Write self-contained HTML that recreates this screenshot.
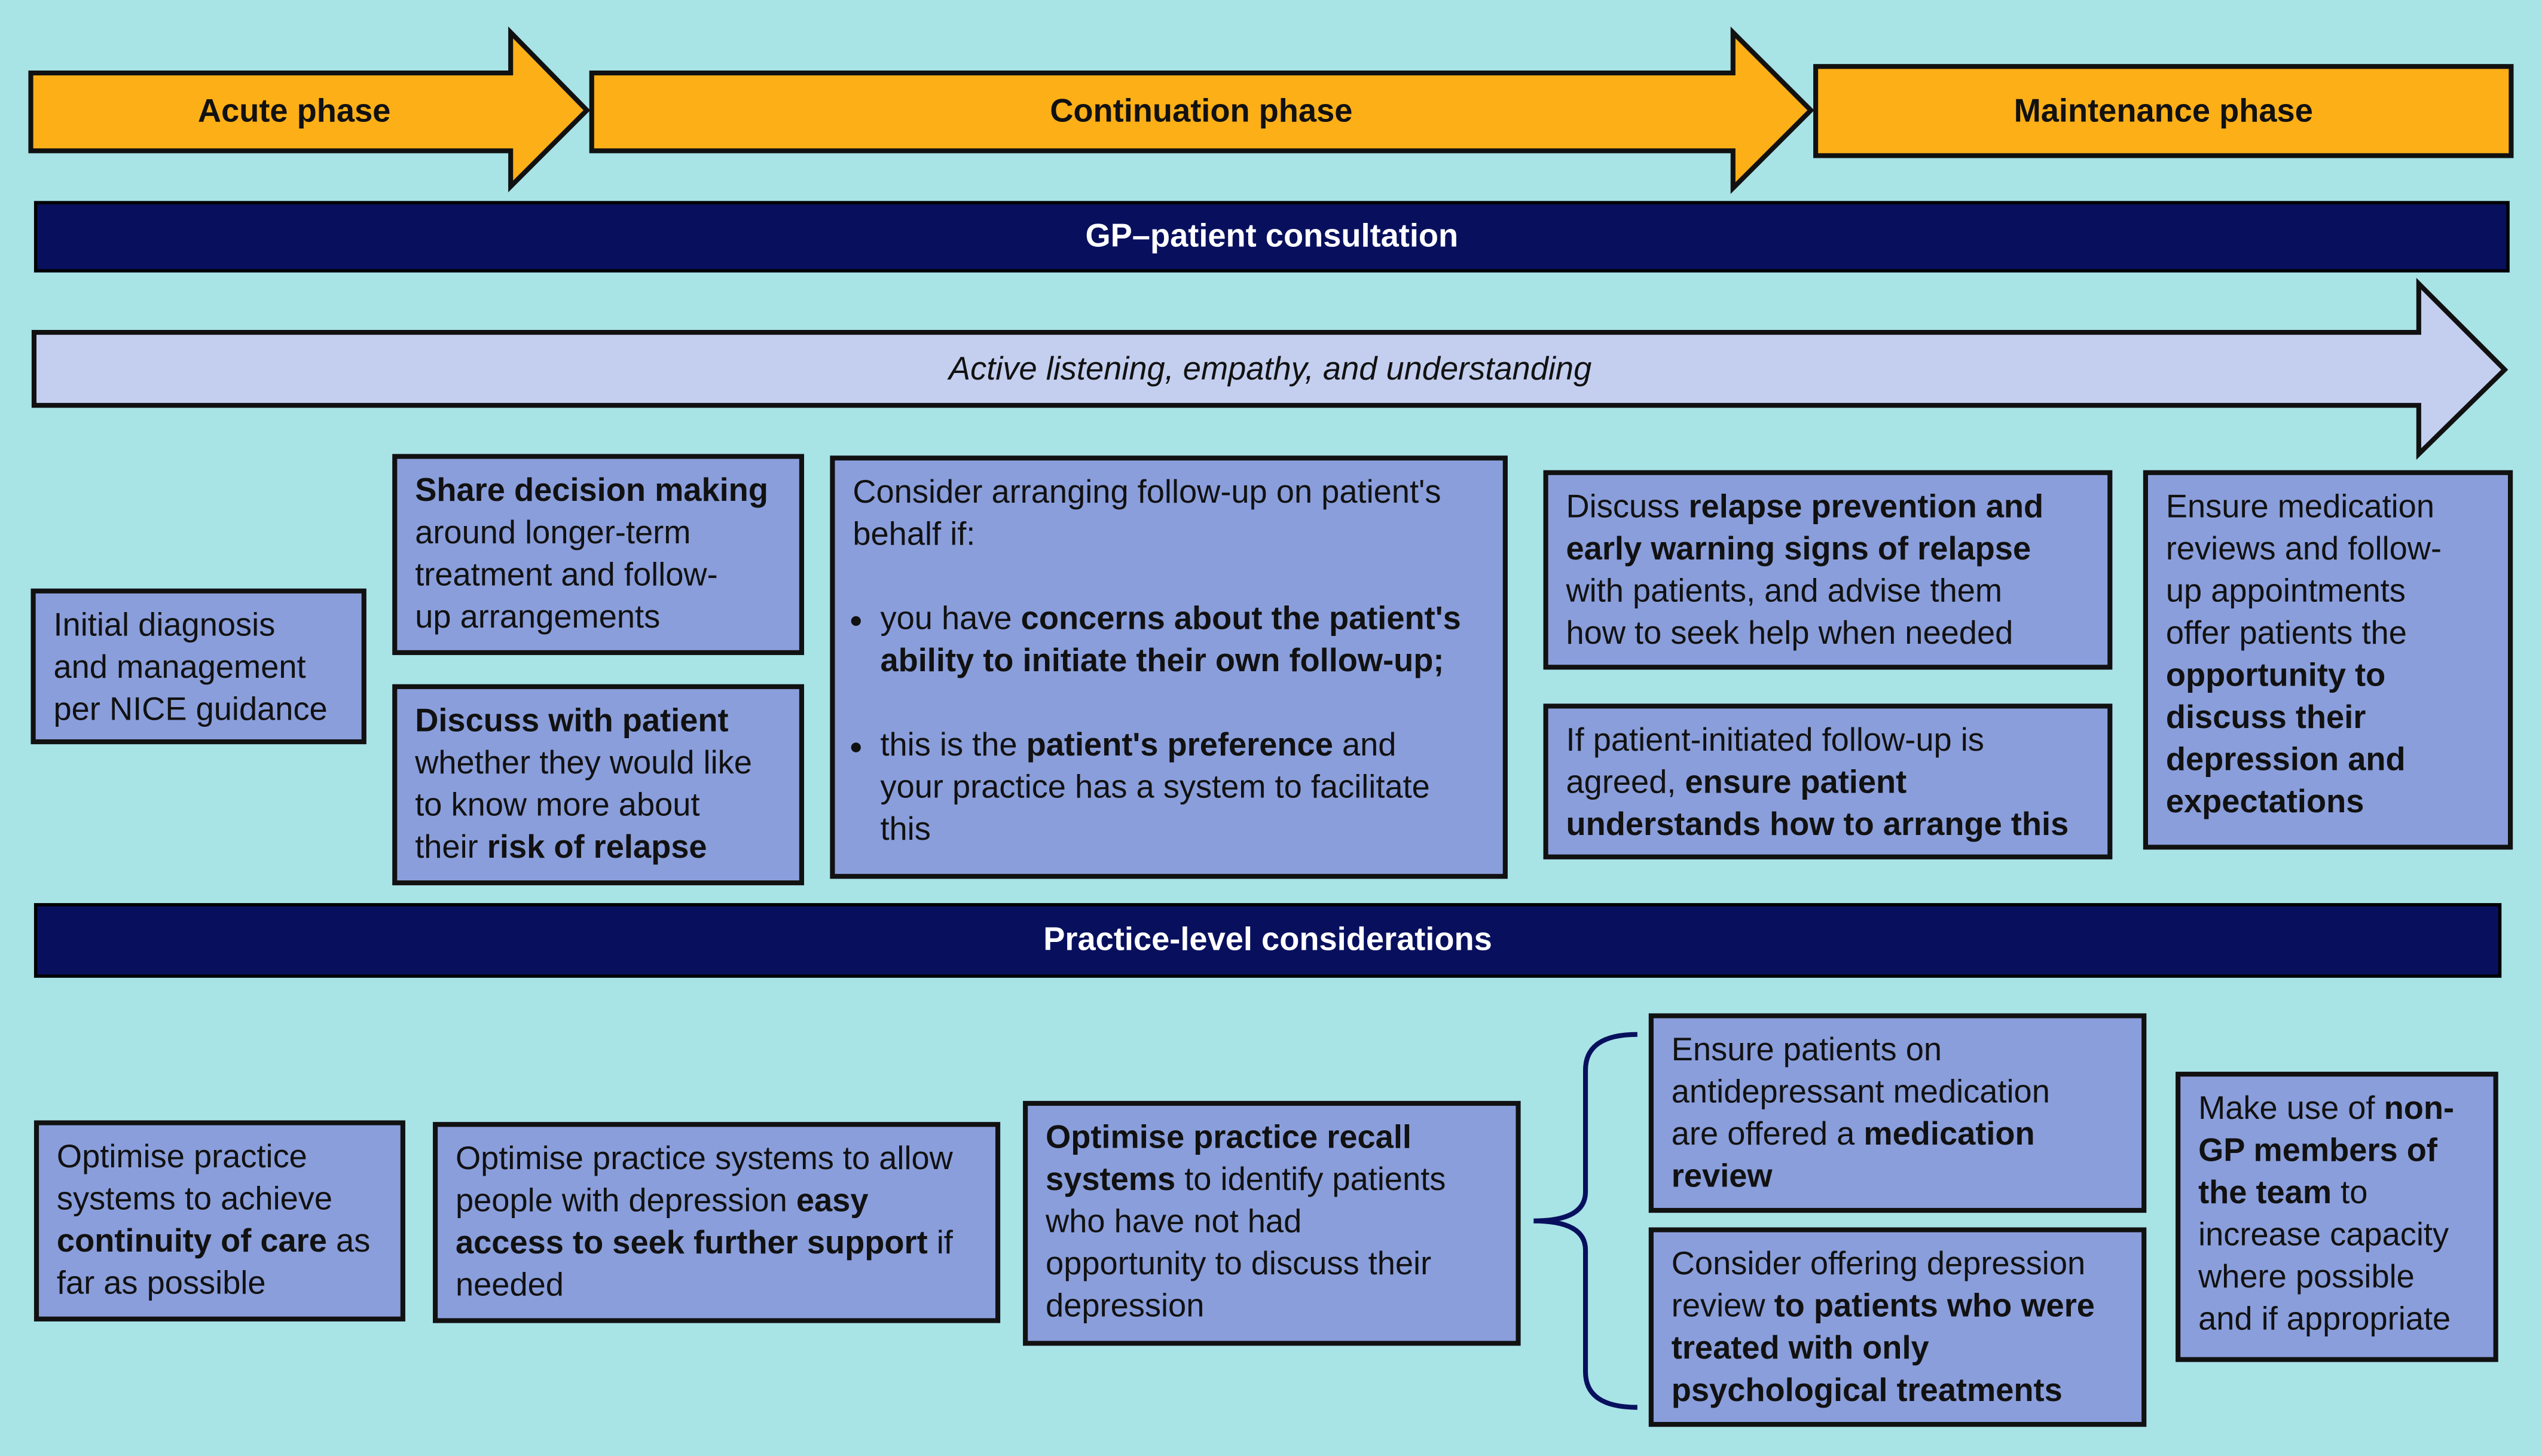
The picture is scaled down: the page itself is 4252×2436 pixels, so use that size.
<!DOCTYPE html>
<html><head><meta charset="utf-8">
<style>
html,body{margin:0;padding:0;background:#a8e3e6;}
#wrap{position:absolute;left:0;top:0;width:1568px;height:898px;transform:scale(2.7117,2.7127);transform-origin:0 0;background:#a8e3e6;font-family:"Liberation Sans",sans-serif;}
.b{position:absolute;box-sizing:border-box;background:#8a9edb;border:3px solid #111;color:#111;font-size:20px;line-height:26px;padding:7px 11px;white-space:nowrap;}
.bar{position:absolute;box-sizing:border-box;background:#08105e;border:2px solid #000;color:#fff;font-weight:bold;font-size:20px;display:flex;align-items:center;justify-content:center;}
b{font-weight:bold;}
svg{position:absolute;left:0;top:0;}
.lbl{position:absolute;font-weight:bold;font-size:20px;color:#111;text-align:center;}
ul{margin:0;padding:0 0 0 17px;}
li{margin:0;}
</style></head><body><div id="wrap">
<svg width="1568" height="898">
<polygon points="19,45 315,45 315,20 362,68 315,115 315,93 19,93" fill="#fcaf17" stroke="#111" stroke-width="3"/>
<polygon points="365,45 1069,45 1069,20 1117,68 1069,116 1069,93 365,93" fill="#fcaf17" stroke="#111" stroke-width="3"/>
<rect x="1120" y="41" width="429" height="55" fill="#fcaf17" stroke="#111" stroke-width="3"/>
<polygon points="21,205 1492,205 1492,175 1545,228 1492,280 1492,250 21,250" fill="#c4cff0" stroke="#111" stroke-width="3"/>
<path d="M1010,638 Q978,638 978,660 L978,735 Q978,753 946,753 Q978,753 978,771 L978,846 Q978,868 1010,868" fill="none" stroke="#08105e" stroke-width="3"/>
</svg>
<div class="lbl" style="left:19px;top:58px;width:325px;">Acute phase</div>
<div class="lbl" style="left:365px;top:58px;width:752px;">Continuation phase</div>
<div class="lbl" style="left:1120px;top:58px;width:429px;">Maintenance phase</div>
<div class="lbl" style="left:21px;top:217px;width:1525px;font-weight:normal;font-style:italic;">Active listening, empathy, and understanding</div>
<div class="bar" style="left:21px;top:124px;width:1527px;height:44px;">GP–patient consultation</div>
<div class="bar" style="left:21px;top:557px;width:1522px;height:46px;">Practice-level considerations</div>

<div class="b" style="left:19px;top:363px;width:207px;height:96px;">Initial diagnosis<br>and management<br>per NICE guidance</div>
<div class="b" style="left:242px;top:280px;width:254px;height:124px;"><b>Share decision making</b><br>around longer-term<br>treatment and follow-<br>up arrangements</div>
<div class="b" style="left:242px;top:422px;width:254px;height:124px;"><b>Discuss with patient</b><br>whether they would like<br>to know more about<br>their <b>risk of relapse</b></div>
<div class="b" style="left:512px;top:281px;width:418px;height:261px;">Consider arranging follow-up on patient's<br>behalf if:<ul style="margin-top:26px;"><li>you have <b>concerns about the patient's<br>ability to initiate their own follow-up;</b></li><li style="margin-top:26px;">this is the <b>patient's preference</b> and<br>your practice has a system to facilitate<br>this</li></ul></div>
<div class="b" style="left:952px;top:290px;width:351px;height:123px;">Discuss <b>relapse prevention and<br>early warning signs of relapse</b><br>with patients, and advise them<br>how to seek help when needed</div>
<div class="b" style="left:952px;top:434px;width:351px;height:96px;">If patient-initiated follow-up is<br>agreed, <b>ensure patient<br>understands how to arrange this</b></div>
<div class="b" style="left:1322px;top:290px;width:228px;height:234px;">Ensure medication<br>reviews and follow-<br>up appointments<br>offer patients the<br><b>opportunity to<br>discuss their<br>depression and<br>expectations</b></div>

<div class="b" style="left:21px;top:691px;width:229px;height:124px;">Optimise practice<br>systems to achieve<br><b>continuity of care</b> as<br>far as possible</div>
<div class="b" style="left:267px;top:692px;width:350px;height:124px;">Optimise practice systems to allow<br>people with depression <b>easy<br>access to seek further support</b> if<br>needed</div>
<div class="b" style="left:631px;top:679px;width:307px;height:151px;"><b>Optimise practice recall<br>systems</b> to identify patients<br>who have not had<br>opportunity to discuss their<br>depression</div>
<div class="b" style="left:1017px;top:625px;width:307px;height:123px;">Ensure patients on<br>antidepressant medication<br>are offered a <b>medication<br>review</b></div>
<div class="b" style="left:1017px;top:757px;width:307px;height:123px;">Consider offering depression<br>review <b>to patients who were<br>treated with only<br>psychological treatments</b></div>
<div class="b" style="left:1342px;top:661px;width:199px;height:179px;">Make use of <b>non-<br>GP members of<br>the team</b> to<br>increase capacity<br>where possible<br>and if appropriate</div>
</div></body></html>
